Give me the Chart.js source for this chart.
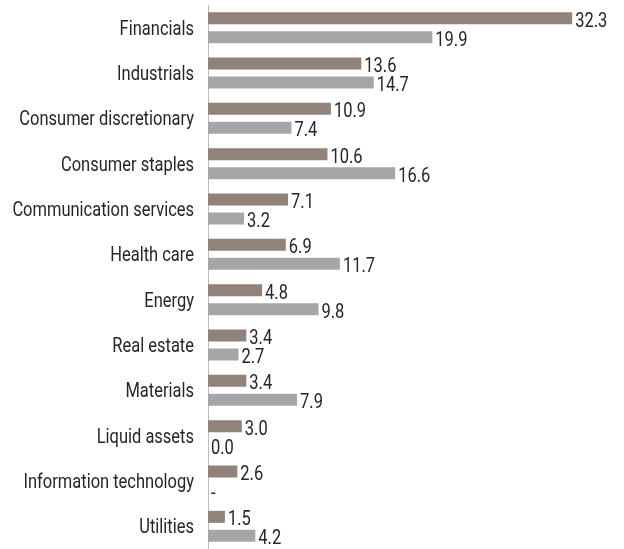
<!DOCTYPE html>
<html>
<head>
<meta charset="utf-8">
<script src="https://cdn.jsdelivr.net/npm/chart.js@4/dist/chart.umd.min.js"></script>
<style>
  html, body { margin: 0; padding: 0; background: #fff; }
  #wrap { width: 624px; height: 549px; position: relative; }
</style>
</head>
<body>
<div id="wrap"><canvas id="bar_chart"></canvas></div>
<script>
var sectors = ["Financials", "Industrials", "Consumer discretionary", "Consumer staples",
    "Communication services", "Health care", "Energy", "Real estate", "Materials",
    "Liquid assets", "Information technology", "Utilities"];
var fundWeights = [32.3, 13.6, 10.9, 10.6, 7.1, 6.9, 4.8, 3.4, 3.4, 3.0, 2.6, 1.5];
var indexWeights = [19.9, 14.7, 7.4, 16.6, 3.2, 11.7, 9.8, 2.7, 7.9, 0.0, null, 4.2];

// the original uses a condensed face, so Roboto is squeezed horizontally
var fontSize = 19.5;
var squeeze = 0.845;
var textColor = '#262626';

function condensedText(ctx, txt, x, y, align) {
    ctx.save();
    ctx.translate(x, y);
    ctx.scale(squeeze, 1);
    ctx.textAlign = align;
    ctx.fillText(txt, 0, 0);
    ctx.restore();
}

var textLabels = {
    id: 'textLabels',
    afterDatasetsDraw: function (chart) {
        var ctx = chart.ctx;
        var xs = chart.scales.x, ys = chart.scales.y;
        ctx.save();
        ctx.font = fontSize + "px Roboto, sans-serif";
        ctx.fillStyle = textColor;
        ctx.textBaseline = 'alphabetic';
        var capHalf = fontSize * 0.355;

        // category names, right aligned left of the axis
        sectors.forEach(function (name, i) {
            condensedText(ctx, name, ys.left + ys.width - 14, ys.getPixelForTick(i) + capHalf, 'right');
        });

        // values at the bar ends, "-" where there is no value
        chart.data.datasets.forEach(function (ds, i) {
            chart.getDatasetMeta(i).data.forEach(function (bar, j) {
                var v = ds.data[j];
                var x = xs.getPixelForValue(v == null ? 0 : v);
                var txt = v == null ? '-' : v.toFixed(1);
                condensedText(ctx, txt, x + 3, bar.y + 1.5 + capHalf, 'left');
            });
        });
        ctx.restore();
    }
};

new Chart(document.getElementById("bar_chart").getContext("2d"), {
    type: 'bar',
    data: {
        labels: sectors,
        datasets: [
            {
                label: "Fund",
                data: fundWeights,
                backgroundColor: 'rgb(145, 130, 122)'
            },
            {
                label: "Index",
                data: indexWeights,
                backgroundColor: 'rgb(166, 166, 166)'
            }
        ]
    },
    options: {
        indexAxis: 'y',
        responsive: true,
        maintainAspectRatio: false,
        animation: false,
        categoryPercentage: 0.838,
        barPercentage: 0.632,
        layout: { padding: { top: 5, bottom: 0, right: 0, left: 0 } },
        plugins: {
            legend: { display: false },
            tooltip: { enabled: false }
        },
        scales: {
            x: {
                display: false,
                min: 0,
                max: 36.9
            },
            y: {
                grid: { display: false, drawTicks: false },
                border: { display: true, color: '#bdbdbd', width: 1 },
                ticks: { display: false },
                afterFit: function (scale) { scale.width = 208; }
            }
        }
    },
    plugins: [textLabels]
});
</script>
</body>
</html>
